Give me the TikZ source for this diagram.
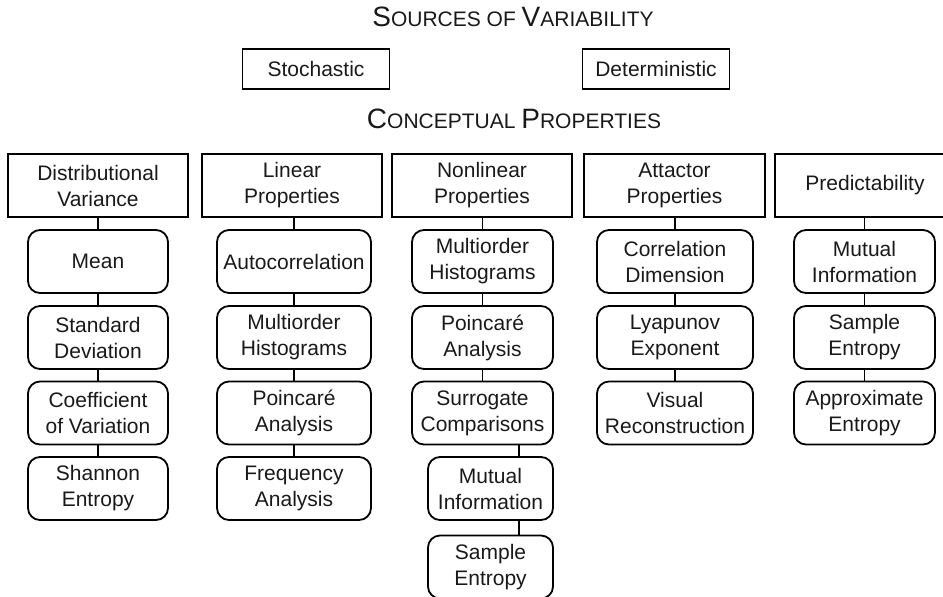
\documentclass[tikz,border=0pt]{standalone}
\usepackage{fontspec}
\setmainfont{Liberation Sans}
\newcommand{\capinit}[1]{{\fontsize{14}{16}\selectfont #1}}
\begin{document}
\begin{tikzpicture}[x=0.5pt,y=-0.5pt,
    every node/.style={font=\fontsize{10.5}{13}\selectfont,text=black!90},
    src/.style={draw,line width=0.9pt,minimum width=73.5pt,minimum height=20pt,inner sep=0pt},
    hdr/.style={draw,line width=0.9pt,minimum width=90pt,minimum height=31.5pt,align=center,inner sep=0pt},
    prop/.style={draw,line width=0.9pt,rounded corners=6pt,minimum height=31.5pt,align=center,inner sep=0pt},
    link/.style={line width=0.9pt}]
    \useasboundingbox (0,0) rectangle (943,596);
    % sources
    \node[] (sources) at (513,17) {\capinit{S}OURCES OF \capinit{V}ARIABILITY};
    \node[src] (stoch) at (316,69) {Stochastic};
    \node[src] (determ) at (656,69) {Deterministic};
    \node[] (concept) at (514,119) {\capinit{C}ONCEPTUAL \capinit{P}ROPERTIES};
    % column heads
    \node[hdr] (dist) at (98,185.5) {Distributional\\Variance};
    \node[hdr] (lin) at (292,185.5) {Linear\\Properties};
    \node[hdr] (nonlin) at (482,185.5) {Nonlinear\\Properties};
    \node[hdr,minimum width=90.5pt] (attr) at (674.5,185.5) {Attactor\\Properties};
    \node[hdr] (pred) at (865,185.5) {Predictability};
    % distributional
    \node[prop,minimum width=70pt] (mean) at (98,261.5) {Mean};
    \node[prop,minimum width=70pt] (sd) at (98,337.5) {Standard\\Deviation};
    \node[prop,minimum width=70pt] (cv) at (98,413) {Coefficient\\of Variation};
    \node[prop,minimum width=70pt] (shan) at (98,488.5) {Shannon\\Entropy};
    % linear
    \node[prop,minimum width=77pt] (auto) at (294,261.5) {Autocorrelation};
    \node[prop,minimum width=77pt] (mhlin) at (294,337.5) {Multiorder\\Histograms};
    \node[prop,minimum width=77pt] (palin) at (294,413) {Poincaré\\Analysis};
    \node[prop,minimum width=77pt] (freq) at (294,488.5) {Frequency\\Analysis};
    % nonlinear
    \node[prop,minimum width=70.5pt] (mhnon) at (482.5,261.5) {Multiorder\\Histograms};
    \node[prop,minimum width=70.5pt] (panon) at (482.5,337.5) {Poincaré\\Analysis};
    \node[prop,minimum width=70.5pt] (surr) at (482.5,413) {Surrogate\\Comparisons};
    \node[prop,minimum width=62.5pt] (minon) at (490.5,488.5) {Mutual\\Information};
    \node[prop,minimum width=62.5pt] (senon) at (490.5,567) {Sample\\Entropy};
    \coordinate (offx) at (519,0);
    % attractor
    \node[prop,minimum width=78pt] (cdim) at (675,261.5) {Correlation\\Dimension};
    \node[prop,minimum width=78pt] (lyap) at (675,337.5) {Lyapunov\\Exponent};
    \node[prop,minimum width=78pt] (vis) at (675,413) {Visual\\Reconstruction};
    % predictability
    \node[prop,minimum width=70.5pt] (mipred) at (864.5,261.5) {Mutual\\Information};
    \node[prop,minimum width=70.5pt] (sepred) at (864.5,337.5) {Sample\\Entropy};
    \node[prop,minimum width=70.5pt] (aepred) at (864.5,413) {Approximate\\Entropy};
    % links
    \foreach \a/\b in {dist/mean,mean/sd,sd/cv,cv/shan,
        lin/auto,auto/mhlin,mhlin/palin,palin/freq,
        nonlin/mhnon,mhnon/panon,panon/surr,
        attr/cdim,cdim/lyap,lyap/vis,
        pred/mipred,mipred/sepred,sepred/aepred}
    {
    \draw[link] (\b.north) -- (\b.north |- \a.south);
    }
    \draw[link] (surr.south -| offx) -- (minon.north -| offx);
    \draw[link] (minon.south -| offx) -- (senon.north -| offx);
\end{tikzpicture}
\end{document}
